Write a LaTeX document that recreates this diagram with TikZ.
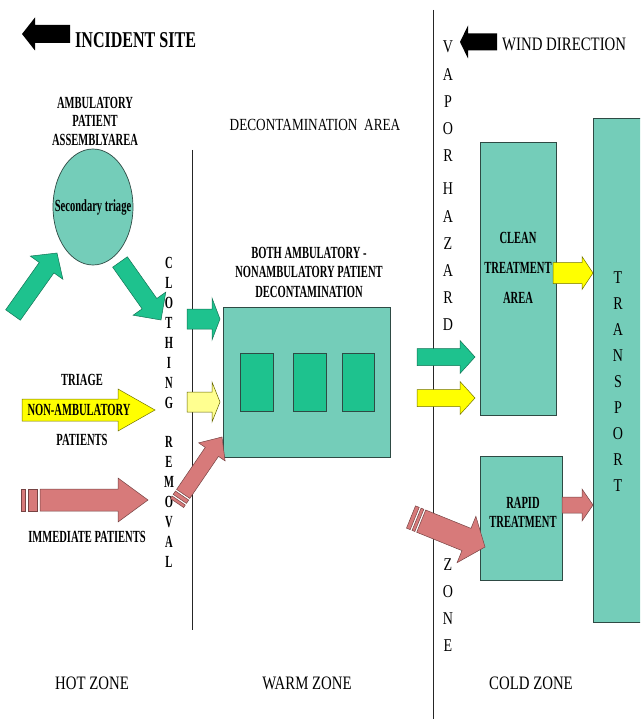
\documentclass[tikz,border=0pt]{standalone}
\usepackage{fontspec}
\setmainfont{Liberation Serif}
\newfontfamily\bcond[FakeStretch=0.62]{Liberation Serif}
\newfontfamily\bcondw[FakeStretch=0.71]{Liberation Serif}
\newfontfamily\rcond[FakeStretch=0.78]{Liberation Serif}
\usetikzlibrary{calc,shapes.geometric}
\definecolor{tealL}{HTML}{74CDB9}
\definecolor{greenA}{HTML}{1EC28E}
\definecolor{yel}{HTML}{FFFF00}
\definecolor{paleyel}{HTML}{FFFF90}
\definecolor{redA}{HTML}{D77A7A}
\definecolor{edge}{HTML}{2E4A44}
% block arrow: style, tail, tip, shaft half width, head half width, head length
\newcommand\barrow[6]{%
  \coordinate (hb) at ($(#3)!#6!(#2)$);
  \path[#1] ($(#2)!#4!90:(#3)$) -- ($(hb)!#4!90:(#3)$) -- ($(hb)!#5!90:(#3)$) -- (#3)
    -- ($(hb)!#5!-90:(#3)$) -- ($(hb)!#4!-90:(#3)$) -- ($(#2)!#4!-90:(#3)$) -- cycle;}
% stripe across an arrow axis: style, tail, tip, from, to, half width
\newcommand\bstripe[6]{%
  \coordinate (sa) at ($(#2)!#4!(#3)$);
  \coordinate (sb) at ($(#2)!#5!(#3)$);
  \path[#1] ($(sa)!#6!90:(#3)$) -- ($(sb)!#6!90:(#3)$) -- ($(sb)!#6!-90:(#3)$) -- ($(sa)!#6!-90:(#3)$) -- cycle;}
\tikzset{
  tealbox/.style={draw=edge, line width=0.7pt, fill=tealL, inner sep=0pt},
  greenbox/.style={draw=edge, line width=0.7pt, fill=greenA, inner sep=0pt},
  garrow/.style={fill=greenA, draw=greenA!60!black, line width=0.5pt},
  yarrow/.style={fill=yel, draw=yel!45!black, line width=0.5pt},
  pyarrow/.style={fill=paleyel, draw=yel!40!black, line width=0.5pt},
  rarrow/.style={fill=redA, draw=redA!55!black, line width=0.5pt},
  karrow/.style={fill=black},
  btext/.style={font=\bcond\bfseries\fontsize{17}{18.5}\selectfont, inner sep=0pt, align=center},
  rtext/.style={font=\rcond\fontsize{19}{22}\selectfont, inner sep=0pt, align=center},
  vtext/.style={font=\rcond\fontsize{18}{20}\selectfont, inner sep=0pt},
  zline/.style={draw=black!85, line width=0.8pt},
}
\begin{document}
\begin{tikzpicture}[x=1pt, y=-1pt]
\useasboundingbox (0,0) rectangle (640,719);
\fill[white] (0,0) rectangle (640,719);
\clip (0,0) rectangle (640,719);

% zone separators
\coordinate (l1t) at (192,150); \coordinate (l1b) at (192,630);
\coordinate (l2t) at (433,10);  \coordinate (l2b) at (433,719);
\draw[zline] (l1t) -- (l1b);
\draw[zline] (l2t) -- (l2b);

% incident site
\coordinate (isT) at (70,34); \coordinate (isP) at (22,34);
\barrow{karrow}{isT}{isP}{9pt}{16.5pt}{13pt}
\node[btext, font=\bcondw\bfseries\fontsize{22.6}{24}\selectfont, anchor=west] (incident) at (75,40) {INCIDENT SITE};

% wind direction
\coordinate (wdT) at (497,42); \coordinate (wdP) at (460,42);
\barrow{karrow}{wdT}{wdP}{8.5pt}{16.5pt}{8pt}
\node[rtext, anchor=west] (wind) at (502,44) {WIND DIRECTION};

% ambulatory assembly area
\node[btext] (assembly) at (95,121) {AMBULATORY\\PATIENT\\ASSEMBLYAREA};
\node[tealbox, ellipse, minimum width=80pt, minimum height=116pt] (circ) at (93,207) {};
\node[btext] (sectri) at (93,207) {Secondary triage};

% green arrows around circle
\coordinate (g1T) at (13,315); \coordinate (g1P) at (57,253);
\barrow{garrow}{g1T}{g1P}{9pt}{20pt}{18pt}
\coordinate (g2T) at (120,262); \coordinate (g2P) at (161,320);
\barrow{garrow}{g2T}{g2P}{9pt}{20pt}{20pt}

% triage
\node[btext] (triage) at (82,380) {TRIAGE};
\coordinate (yT) at (22,410); \coordinate (yP) at (155,410);
\barrow{yarrow}{yT}{yP}{11pt}{21pt}{37pt}
\node[btext] (nonamb) at (79,410) {NON-AMBULATORY};
\node[btext] (patients) at (82,440) {PATIENTS};

% immediate patients
\draw[rarrow] (21,489) rectangle (25,511);
\draw[rarrow] (28,489) rectangle (37,511);
\coordinate (rT) at (40,500); \coordinate (rP) at (148,500);
\barrow{rarrow}{rT}{rP}{11pt}{22pt}{30pt}
\node[btext] (immediate) at (87,537) {IMMEDIATE PATIENTS};

% clothing removal letters
\foreach \l [count=\i from 0] in {C,L,O,T,H,I,N,G}
  \node[btext] (cl\i) at (169,{263+20*\i}) {\l};
\foreach \l [count=\i from 0] in {R,E,M,O,V,A,L}
  \node[btext] (rm\i) at (169,{442+20*\i}) {\l};

% decontamination area
\node[rtext, font=\rcond\fontsize{17}{20}\selectfont] (deconarea) at (315,125) {DECONTAMINATION\ \ AREA};
\node[btext, font=\bcond\bfseries\fontsize{17}{19.5}\selectfont] (deconlbl) at (309,272) {BOTH AMBULATORY -\\NONAMBULATORY PATIENT\\DECONTAMINATION};
\node[tealbox, minimum width=167pt, minimum height=150pt] (decon) at (306.5,382) {};
\node[greenbox, minimum width=33pt, minimum height=58pt] (st1) at (256.5,382) {};
\node[greenbox, minimum width=33pt, minimum height=58pt] (st2) at (309.5,382) {};
\node[greenbox, minimum width=32pt, minimum height=58pt] (st3) at (358,382) {};

% arrows into decon
\coordinate (gdT) at (187,319); \coordinate (gdP) at (220,319);
\barrow{garrow}{gdT}{gdP}{10pt}{21pt}{8pt}
\coordinate (ydT) at (187,402); \coordinate (ydP) at (220,402);
\barrow{pyarrow}{ydT}{ydP}{10pt}{20pt}{8pt}
\coordinate (rd0) at (177,503); \coordinate (rdP) at (222,437);
\bstripe{rarrow}{rd0}{rdP}{0pt}{3pt}{8pt}
\bstripe{rarrow}{rd0}{rdP}{5pt}{9pt}{8pt}
\coordinate (rdT) at ($(rd0)!11pt!(rdP)$);
\barrow{rarrow}{rdT}{rdP}{8pt}{16pt}{18pt}

% vapor hazard zone letters
\foreach \l [count=\i from 0] in {V,A,P,O,R}
  \node[vtext] (vp\i) at (448,{47+27.25*\i}) {\l};
\foreach \l [count=\i from 0] in {H,A,Z,A,R,D}
  \node[vtext] (hz\i) at (448,{189+27.2*\i}) {\l};
\foreach \l [count=\i from 0] in {Z,O,N,E}
  \node[vtext] (zn\i) at (448,{565+26.7*\i}) {\l};

% clean treatment area
\node[tealbox, minimum width=76pt, minimum height=273pt] (clean) at (518,278.5) {};
\node[btext, font=\bcond\bfseries\fontsize{17}{30}\selectfont] (cleanlbl) at (518,268) {CLEAN\\TREATMENT\\AREA};

% transport
\node[tealbox, minimum width=60pt, minimum height=504pt] (transport) at (623,370) {};
\foreach \l [count=\i from 0] in {T,R,A,N,S,P,O,R,T}
  \node[vtext] (tr\i) at (618,{278+26*\i}) {\l};

% rapid treatment
\node[tealbox, minimum width=82pt, minimum height=124pt] (rapid) at (521,518) {};
\node[btext, font=\bcond\bfseries\fontsize{17}{19}\selectfont] (rapidlbl) at (523,512) {RAPID\\TREATMENT};

% arrows into cold zone
\coordinate (gcT) at (417,357); \coordinate (gcP) at (475,357);
\barrow{garrow}{gcT}{gcP}{8.5pt}{16.5pt}{15pt}
\coordinate (ycT) at (417,398); \coordinate (ycP) at (475,398);
\barrow{yarrow}{ycT}{ycP}{8.5pt}{16.5pt}{15pt}
\coordinate (ytT) at (553,273); \coordinate (ytP) at (593,273);
\barrow{yarrow}{ytT}{ytP}{10.5pt}{16.5pt}{11pt}
\coordinate (rtT) at (562,505); \coordinate (rtP) at (593,505);
\barrow{rarrow}{rtT}{rtP}{8pt}{16pt}{11pt}
\coordinate (rc0) at (411,517); \coordinate (rcP) at (485,547);
\bstripe{rarrow}{rc0}{rcP}{0pt}{4pt}{12pt}
\bstripe{rarrow}{rc0}{rcP}{6pt}{9pt}{12pt}
\coordinate (rcT) at ($(rc0)!11pt!(rcP)$);
\barrow{rarrow}{rcT}{rcP}{12pt}{25pt}{20pt}

% zone labels
\node[rtext] (hot) at (92,683) {HOT ZONE};
\node[rtext] (warm) at (307,683) {WARM ZONE};
\node[rtext] (cold) at (531,683) {COLD ZONE};
\end{tikzpicture}
\end{document}
